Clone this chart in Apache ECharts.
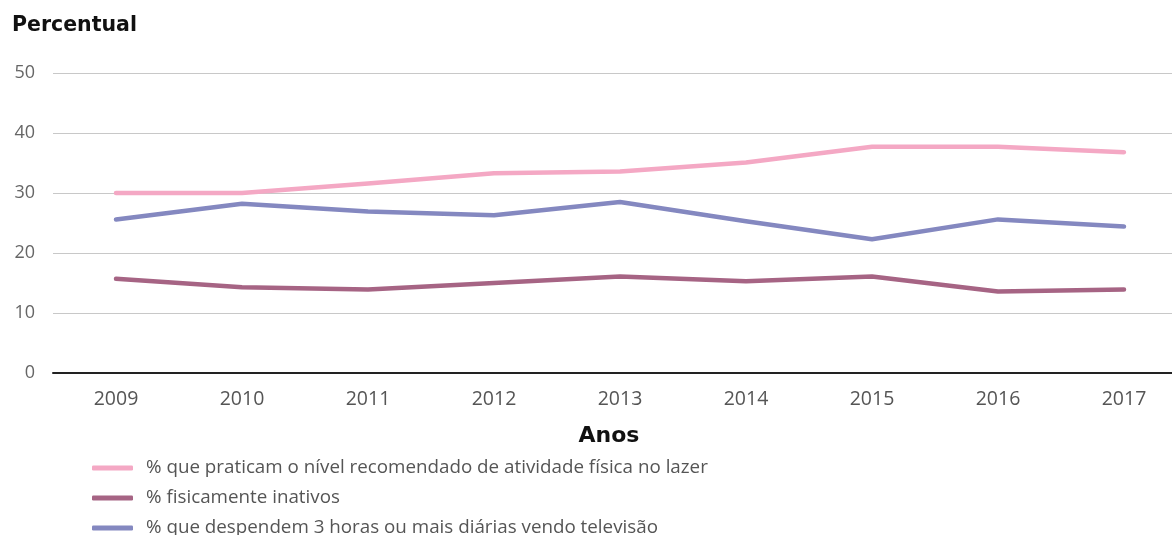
<!DOCTYPE html>
<html>
<head>
<meta charset="utf-8">
<script src="https://cdn.jsdelivr.net/npm/echarts@6/dist/echarts.min.js"></script>
<style>
  html, body { margin: 0; padding: 0; background: #fff; }
  #chart { width: 1172px; height: 535px; }
</style>
</head>
<body>
<div id="chart"></div>
<script>
// anos e valores
const anos = ['2009', '2010', '2011', '2012', '2013', '2014', '2015', '2016', '2017']
const atividadeLazer = [30.0, 30.0, 31.6, 33.3, 33.6, 35.1, 37.7, 37.7, 36.8]
const inativos = [15.7, 14.3, 13.9, 15.0, 16.1, 15.3, 16.1, 13.6, 13.9]
const televisao = [25.6, 28.2, 26.9, 26.3, 28.5, 25.3, 22.3, 25.6, 24.4]

const nomes = [
  '% que praticam o nível recomendado de atividade física no lazer',
  '% fisicamente inativos',
  '% que despendem 3 horas ou mais diárias vendo televisão'
]
const cores = ['#f4a8c4', '#a66484', '#8488c0']
const fonte = '"Open Sans", "DejaVu Sans", sans-serif'
const fonteTitulo = '"DejaVu Sans", sans-serif'

const chart = echarts.init(document.getElementById('chart'))

const linha = (name, data, color) => ({
  name,
  type: 'line',
  data,
  symbol: 'none',
  lineStyle: { width: 4.5, color, cap: 'round', join: 'round' },
  itemStyle: { color },
  emphasis: { disabled: true }
})

chart.setOption({
  animation: false,
  textStyle: { fontFamily: fonte },
  title: [
    {
      text: 'Percentual',
      left: 7,
      top: 10,
      textStyle: { fontSize: 20.5, fontWeight: 'bold', color: '#111', fontFamily: fonteTitulo }
    },
    {
      text: 'Anos',
      left: 604,
      top: 420,
      textAlign: 'center',
      textStyle: { fontSize: 22, fontWeight: 'bold', color: '#111', fontFamily: fonteTitulo }
    }
  ],
  // largura fixa: a área passa da borda direita como no original
  grid: { left: 53, top: 73, width: 1134, height: 300, outerBoundsMode: 'none' },
  legend: {
    orient: 'vertical',
    left: 87,
    top: 453,
    height: 120,
    itemWidth: 41,
    itemHeight: 5,
    itemGap: 10,
    icon: 'roundRect',
    textStyle: { fontSize: 18.8, lineHeight: 20, color: '#555', fontFamily: fonte, padding: [0, 0, 0, 8] },
    data: nomes
  },
  xAxis: {
    type: 'category',
    data: anos,
    boundaryGap: true,
    axisLine: { show: true, lineStyle: { color: '#222', width: 2 } },
    axisTick: { show: false },
    axisLabel: { color: '#555', fontSize: 19.5, margin: 16 }
  },
  yAxis: {
    type: 'value',
    min: 0,
    max: 50,
    interval: 10,
    axisLine: { show: false },
    axisTick: { show: false },
    splitLine: { lineStyle: { color: '#c8c8c8', width: 1 } },
    axisLabel: { color: '#666', fontSize: 18, margin: 18 }
  },
  series: [
    linha(nomes[0], atividadeLazer, cores[0]),
    linha(nomes[1], inativos, cores[1]),
    linha(nomes[2], televisao, cores[2])
  ]
})
</script>
</body>
</html>
